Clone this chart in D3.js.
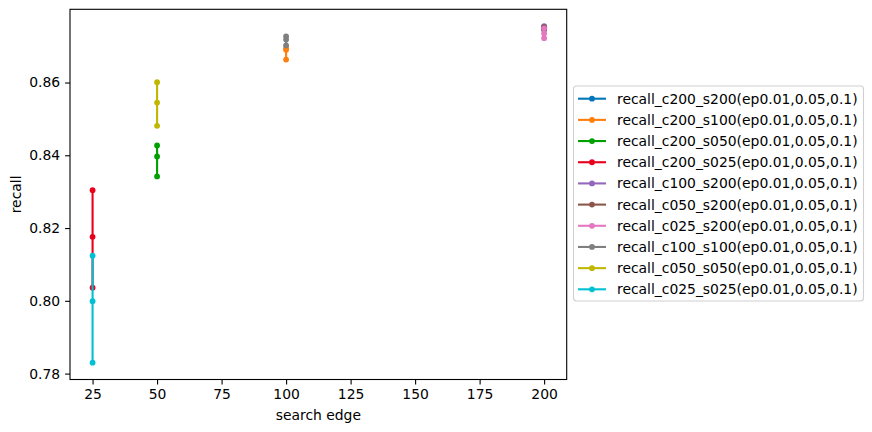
<!DOCTYPE html>
<html><head><meta charset="utf-8">
<script src="https://cdn.jsdelivr.net/npm/d3@7"></script>
<style>body{margin:0;background:#fff;} text{font-family:"DejaVu Sans",sans-serif;}</style>
</head><body><svg id="chart" width="872" height="432"></svg>
<script>
// x positions (search edge) for each series
const seriesNames = ["recall_c200_s200(ep0.01,0.05,0.1)","recall_c200_s100(ep0.01,0.05,0.1)","recall_c200_s050(ep0.01,0.05,0.1)","recall_c200_s025(ep0.01,0.05,0.1)","recall_c100_s200(ep0.01,0.05,0.1)","recall_c050_s200(ep0.01,0.05,0.1)","recall_c025_s200(ep0.01,0.05,0.1)","recall_c100_s100(ep0.01,0.05,0.1)","recall_c050_s050(ep0.01,0.05,0.1)","recall_c025_s025(ep0.01,0.05,0.1)"];
const seriesEdge = [200, 100, 50, 25, 200, 200, 200, 100, 50, 25];
const seriesValues = [
  [0.8753, 0.8750, 0.8747],
  [0.8694, 0.8690, 0.8663],
  [0.8427, 0.8397, 0.8342],
  [0.8304, 0.8176, 0.8036],
  [0.8755, 0.8752, 0.8749],
  [0.8752, 0.8749, 0.8745],
  [0.8749, 0.8735, 0.8722],
  [0.8727, 0.8718, 0.8702],
  [0.8601, 0.8545, 0.8481],
  [0.8124, 0.7999, 0.7830]
];
const colors = ["#0075b8","#ff7f0e","#00a000","#e8001c","#9467bd","#8c564b","#e377c2","#7f7f7f","#c0b800","#00c0d4"];
const xTicks = [25, 50, 75, 100, 125, 150, 175, 200];
const yTicks = [0.78, 0.80, 0.82, 0.84, 0.86];

const svg = d3.select("#chart");
const L = 70, R = 566.7, T = 9.3, B = 379.5;
const xmin = d3.min(seriesEdge), xmax = d3.max(seriesEdge);
const allV = seriesValues.flat();
const ymin = d3.min(allV), ymax = d3.max(allV);
const xm = (xmax - xmin) * 0.05, ym = (ymax - ymin) * 0.05;
const x = d3.scaleLinear().domain([xmin - xm, xmax + xm]).range([L, R]);
const y = d3.scaleLinear().domain([ymin - ym, ymax + ym]).range([B, T]);

const fs = "13.9px";
const xAxis = svg.append("g").attr("transform", `translate(0,${B})`)
  .call(d3.axisBottom(x).tickValues(xTicks).tickFormat(d3.format("d")).tickSize(4.9).tickPadding(4.9));
const yAxis = svg.append("g").attr("transform", `translate(${L},0)`)
  .call(d3.axisLeft(y).tickValues(yTicks).tickFormat(d3.format(".2f")).tickSize(4.9).tickPadding(4.9));
[xAxis, yAxis].forEach(a => {
  a.select(".domain").remove();
  a.selectAll("line").attr("stroke", "#000").attr("stroke-width", 1.1);
  a.selectAll("text").attr("font-size", fs).attr("fill", "#000").attr("font-family", "DejaVu Sans");
});

// frame
svg.append("rect").attr("x", L).attr("y", T).attr("width", R - L).attr("height", B - T)
  .attr("fill", "none").attr("stroke", "#000").attr("stroke-width", 1.1);

const line = d3.line().x(d => x(d[0])).y(d => y(d[1]));
seriesValues.forEach((vals, i) => {
  const pts = vals.map(v => [seriesEdge[i], v]);
  const g = svg.append("g");
  g.append("path").attr("d", line(pts)).attr("fill", "none").attr("stroke", colors[i]).attr("stroke-width", 2.1);
  g.selectAll("circle").data(pts).join("circle")
    .attr("cx", d => x(d[0])).attr("cy", d => y(d[1])).attr("r", 2.9).attr("fill", colors[i]);
});

svg.append("text").attr("x", (L + R) / 2).attr("y", 420).attr("text-anchor", "middle")
  .attr("font-size", fs).text("search edge");
svg.append("text").attr("transform", `translate(21,${(T + B) / 2}) rotate(-90)`).attr("text-anchor", "middle")
  .attr("font-size", fs).text("recall");

// legend
const lg = svg.append("g");
lg.append("rect").attr("x", 573.5).attr("y", 86).attr("width", 290).attr("height", 215).attr("rx", 3)
  .attr("fill", "#fff").attr("fill-opacity", 0.8).attr("stroke", "#d0d0d0").attr("stroke-width", 1.1);
seriesNames.forEach((name, i) => {
  const yy = 98.7 + i * 21.18;
  lg.append("line").attr("x1", 578).attr("x2", 606).attr("y1", yy).attr("y2", yy)
    .attr("stroke", colors[i]).attr("stroke-width", 2.1);
  lg.append("circle").attr("cx", 592).attr("cy", yy).attr("r", 2.9).attr("fill", colors[i]);
  lg.append("text").attr("x", 617).attr("y", yy).attr("dy", "0.36em").attr("font-size", fs).text(name);
});
</script>
</body></html>
